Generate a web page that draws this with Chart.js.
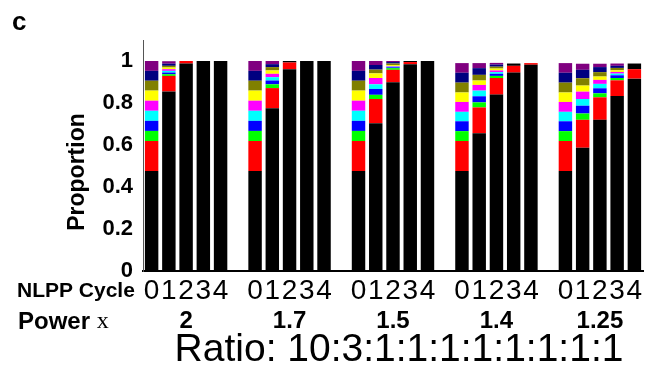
<!DOCTYPE html>
<html>
<head>
<meta charset="utf-8">
<script src="https://cdn.jsdelivr.net/npm/chart.js@4.4.1/dist/chart.umd.min.js"></script>
<style>
  html, body { margin: 0; padding: 0; background: #fff; }
  #wrap { width: 651px; height: 373px; position: relative; }
</style>
</head>
<body>
<div id="wrap"><canvas id="c"></canvas></div>
<script>
// ---- data ----
const powers = ['2', '1.7', '1.5', '1.4', '1.25'];
const cycles = ['0', '1', '2', '3', '4'];
const ratioText = 'Ratio: 10:3:1:1:1:1:1:1:1:1';
// proportions per bar: group (power) x cycle, 25 values each, component order bottom -> top
const comp1  = [0.476,0.855,0.988,1.000,1.000, 0.476,0.775,0.961,1.000,1.000, 0.476,0.704,0.899,0.985,1.000, 0.476,0.656,0.840,0.945,0.982, 0.476,0.587,0.720,0.833,0.916];
const comp2  = [0.143,0.074,0.012,0,0,         0.143,0.096,0.032,0,0,         0.143,0.115,0.059,0.010,0,     0.143,0.123,0.079,0.032,0.008, 0.143,0.133,0.107,0.075,0.045];
const comp3  = [0.048,0.008,0,0,0,             0.048,0.018,0,0,0,             0.048,0.020,0.008,0,0,         0.047,0.024,0.010,0,0,         0.047,0.030,0.019,0.011,0];
const comp4  = [0.048,0.008,0,0,0,             0.048,0.018,0,0,0,             0.048,0.028,0.004,0,0,         0.047,0.029,0.010,0,0,         0.047,0.037,0.024,0.013,0];
const comp5  = [0.048,0.008,0,0,0,             0.048,0.016,0,0,0,             0.048,0.022,0.003,0,0,         0.045,0.027,0.008,0,0,         0.045,0.032,0.021,0.008,0];
const comp6  = [0.048,0.008,0,0,0,             0.048,0.016,0,0,0,             0.048,0.030,0.003,0,0,         0.047,0.027,0.008,0,0,         0.047,0.035,0.019,0.008,0];
const comp7  = [0.048,0.008,0,0,0,             0.048,0.016,0,0,0,             0.048,0.022,0.004,0,0,         0.045,0.021,0.009,0,0,         0.045,0.029,0.016,0.008,0];
const comp8  = [0.047,0.008,0,0,0,             0.047,0.016,0,0,0,             0.047,0.018,0.008,0,0,         0.047,0.027,0.009,0,0,         0.047,0.035,0.021,0.011,0];
const comp9  = [0.047,0.010,0,0,0,             0.047,0.014,0,0,0,             0.047,0.022,0.007,0,0,         0.047,0.032,0.010,0,0,         0.047,0.040,0.024,0.010,0];
const comp10 = [0.047,0.012,0,0,0,             0.047,0.015,0,0,0,             0.047,0.019,0.005,0,0,         0.046,0.024,0.008,0,0,         0.046,0.029,0.016,0.011,0];
const other  = [0,0,0,0,0,                     0,0,0.007,0,0,                 0,0,0,0.005,0,                 0,0,0,0.011,0,                 0,0,0,0,0.027];

const series = [comp1, comp2, comp3, comp4, comp5, comp6, comp7, comp8, comp9, comp10, other];
const colors = ['#000000','#ff0000','#00ff00','#0000ff','#00ffff','#ff00ff','#ffff00','#808000','#000080','#800080','#000000'];

// build category axis: 5 cycles per group with one empty slot between groups
const labels = [];
const idxMap = [];
powers.forEach((p, g) => {
  cycles.forEach((c, k) => { idxMap.push(labels.length); labels.push(c); });
  if (g < powers.length - 1) labels.push('');
});
function expand(arr) {
  const out = new Array(labels.length).fill(null);
  arr.forEach((v, i) => { out[idxMap[i]] = v; });
  return out;
}

const FONT = "'Liberation Sans', Arial, sans-serif";

const textPlugin = {
  id: 'textPlugin',
  afterDraw(chart) {
    const ctx = chart.ctx;
    const xs = chart.scales.x;
    ctx.save();
    ctx.fillStyle = '#000';
    // panel letter
    ctx.font = 'bold 26px ' + FONT;
    ctx.textAlign = 'left'; ctx.textBaseline = 'alphabetic';
    ctx.fillText('c', 12, 30);
    // y title
    ctx.save();
    ctx.translate(78, 172);
    ctx.rotate(-Math.PI / 2);
    ctx.font = 'bold 23px ' + FONT;
    ctx.textAlign = 'center'; ctx.textBaseline = 'middle';
    ctx.fillText('Proportion', 0, 0);
    ctx.restore();
    // row headers
    ctx.textAlign = 'left'; ctx.textBaseline = 'middle';
    ctx.font = 'bold 21px ' + FONT;
    ctx.fillText('NLPP Cycle', 17, 291);
    ctx.font = 'bold 24px ' + FONT;
    ctx.fillText('Power ', 18, 322);
    const pw = ctx.measureText('Power ').width;
    ctx.font = "24px 'Liberation Serif', 'Times New Roman', serif";
    ctx.fillText('x', 18 + pw, 322);
    // power values
    ctx.textAlign = 'center';
    ctx.font = 'bold 24px ' + FONT;
    powers.forEach((p, g) => {
      const x = xs.getPixelForValue(idxMap[g * cycles.length + 2]);
      ctx.fillText(p, x, 321);
    });
    // ratio
    ctx.font = '39px ' + FONT;
    ctx.fillText(ratioText, 399, 350);
    ctx.restore();
  }
};

new Chart(document.getElementById('c'), {
  type: 'bar',
  data: {
    labels: labels,
    datasets: series.map((s, i) => ({
      label: 'c' + (i + 1),
      data: expand(s),
      backgroundColor: colors[i],
      borderWidth: 0,
      categoryPercentage: 1.0,
      barPercentage: 0.78,
      stack: 's'
    }))
  },
  options: {
    responsive: true,
    maintainAspectRatio: false,
    animation: false,
    layout: { padding: { left: 0, right: 8, top: 40, bottom: 0 } },
    plugins: { legend: { display: false }, tooltip: { enabled: false }, title: { display: false } },
    scales: {
      x: {
        type: 'category',
        stacked: true,
        offset: true,
        grid: { display: false, drawTicks: false },
        border: { display: true, color: '#000', width: 2 },
        ticks: {
          autoSkip: false, maxRotation: 0, minRotation: 0, padding: 3,
          color: '#000', font: { family: FONT, size: 28 }
        },
        afterFit(scale) { scale.height = 102; }
      },
      y: {
        stacked: true,
        min: 0, max: 1.1,
        grid: { display: false, drawTicks: false },
        border: { display: true, color: '#555', width: 1 },
        afterBuildTicks(scale) {
          scale.ticks = [0, 0.2, 0.4, 0.6, 0.8, 1].map(v => ({ value: v }));
        },
        ticks: {
          padding: 10, color: '#000',
          font: { family: FONT, size: 22, weight: 'bold' },
          callback: v => (v === 0 ? '0' : v === 1 ? '1' : v.toFixed(1))
        },
        afterFit(scale) { scale.width = 143; }
      }
    }
  },
  plugins: [textPlugin]
});
</script>
</body>
</html>
